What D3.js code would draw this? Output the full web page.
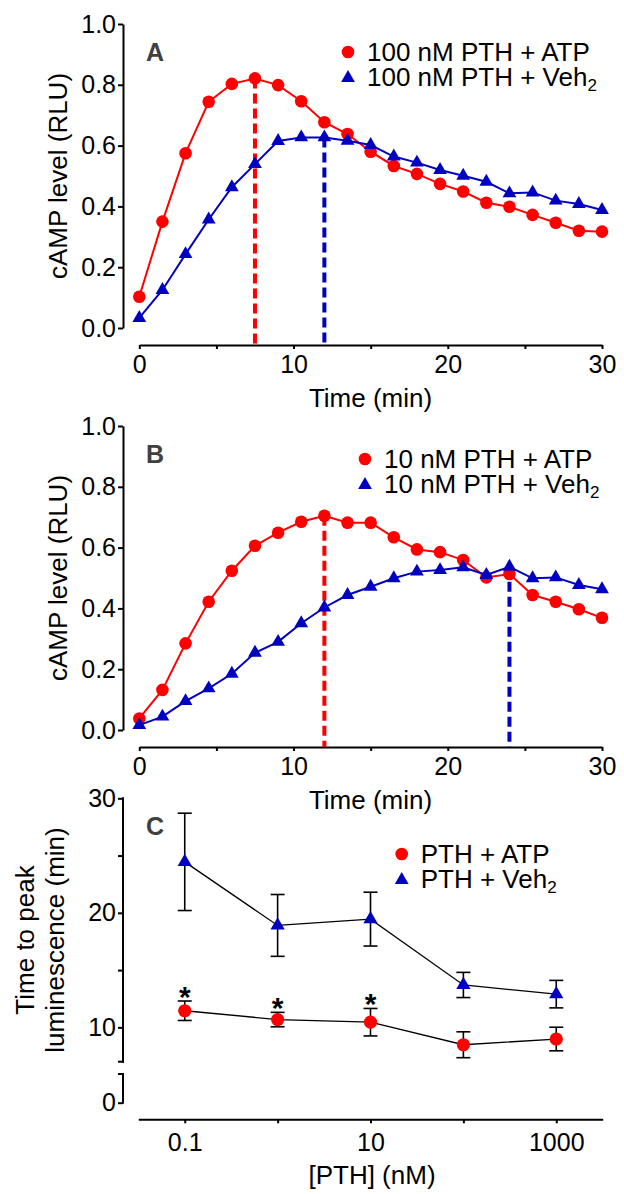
<!DOCTYPE html>
<html><head><meta charset="utf-8">
<script src="https://cdn.jsdelivr.net/npm/d3@7"></script>
<style>
body{margin:0;background:#fff}
svg{display:block}
text{font-family:"Liberation Sans",Arial,Helvetica,sans-serif}
</style>
</head><body>
<svg id="chart" width="624" height="1194"></svg>
<script>
// ---------- data ----------
const timePoints = [0,1.5,3,4.5,6,7.5,9,10.5,12,13.5,15,16.5,18,19.5,21,22.5,24,25.5,27,28.5,30];
const aATP = [0.103,0.35,0.575,0.744,0.803,0.821,0.799,0.746,0.677,0.638,0.58,0.533,0.507,0.474,0.449,0.412,0.399,0.372,0.346,0.32,0.317];
const aVeh = [0.033,0.125,0.243,0.357,0.463,0.539,0.615,0.627,0.627,0.616,0.602,0.564,0.544,0.52,0.501,0.481,0.443,0.446,0.419,0.408,0.388];
const bATP = [0.038,0.132,0.285,0.422,0.524,0.606,0.649,0.685,0.705,0.682,0.682,0.634,0.594,0.585,0.559,0.502,0.513,0.444,0.422,0.397,0.369];
const bVeh = [0.016,0.044,0.095,0.137,0.185,0.254,0.29,0.351,0.403,0.444,0.471,0.499,0.521,0.526,0.535,0.51,0.537,0.499,0.502,0.477,0.463];
const aPeakTimes = [7.5, 12];   // ATP, Veh2
const bPeakTimes = [12, 24];

const timeTicks = [0,5,10,15,20,25,30];
const timeLabels = [0,10,20,30];
const campTicks = [0,0.2,0.4,0.6,0.8,1.0];

const pthDoses = [0.1,1,10,100,1000];
const cATP = [11.45,10.68,10.45,8.48,8.98];
const cATPsem = [0.85,0.63,1.2,1.13,1.03];
const cVeh = [24.45,18.9,19.45,13.7,12.9];
const cVehSem = [4.25,2.7,2.35,1.1,1.2];
const sigDoses = [0.1,1,10];
const peakTicks = [0,10,15,20,25,30];
const peakLabels = [0,10,20,30];
const doseTicks = [0.1,1,10,100,1000];
const doseLabels = [0.1,10,1000];

// ---------- styles ----------
const RED = "#ff0000", BLUE = "#0000c0";
const svg = d3.select("#chart");
const triangle = d3.symbol().type(d3.symbolTriangle).size(82);

function styleAxis(g){
  g.attr("font-size",null).attr("font-family",null);
  g.selectAll("path.domain").attr("stroke","#000").attr("stroke-width",2);
  g.selectAll(".tick line").attr("stroke","#000").attr("stroke-width",2);
  g.selectAll(".tick text").attr("fill","#000").style("font-size","25px");
}

function legend(x, y, label1, label2){
  const g = svg.append("g");
  g.append("circle").attr("cx",x).attr("cy",y-9).attr("r",6.3).attr("fill",RED);
  g.append("path").attr("d",triangle).attr("transform",`translate(${x},${y+25-8})`).attr("fill",BLUE);
  g.append("text").attr("x",x+19).attr("y",y).style("font-size","26px").text(label1);
  const t = g.append("text").attr("x",x+19).attr("y",y+25).style("font-size","26px").text(label2);
  t.append("tspan").attr("dy","0.3em").style("font-size","17px").text("2");
}

function timePanel(y0, atp, veh, peaks, letter, leg1, leg2, legX, legY){
  const x = d3.scaleLinear().domain([0,30]).range([139.3,602]);
  const y = d3.scaleLinear().domain([0,1]).range([y0, y0-304]);
  const axY = y0 + 17;

  const gy = svg.append("g").attr("transform","translate(123,0)")
    .call(d3.axisLeft(y).tickValues(campTicks).tickFormat(d3.format(".1f")).tickSize(5).tickSizeOuter(0).tickPadding(2));
  styleAxis(gy);
  const gx = svg.append("g").attr("transform",`translate(0,${axY})`)
    .call(d3.axisBottom(x).tickValues(timeTicks).tickFormat(d=>timeLabels.includes(d)?d:"").tickSize(4).tickSizeOuter(0).tickPadding(6));
  styleAxis(gx);

  svg.append("text").attr("x",370.5).attr("y",axY+62).attr("text-anchor","middle").style("font-size","26px").text("Time (min)");
  svg.append("text").attr("transform",`translate(67,${y0-152}) rotate(-90)`).attr("text-anchor","middle").style("font-size","26px").text("cAMP level (RLU)");
  svg.append("text").attr("x",146).attr("y",y0-267).style("font-size","25px").style("font-weight","bold").attr("fill","#404040").text(letter);

  // dashed peak markers
  [[atp,RED],[veh,BLUE]].forEach(([vals,col],i)=>{
    const t = peaks[i];
    const v = vals[timePoints.indexOf(t)];
    svg.append("line").attr("x1",x(t)).attr("x2",x(t)).attr("y1",y(v)).attr("y2",axY)
      .attr("stroke",col).attr("stroke-width",4).attr("stroke-dasharray","10,5");
  });

  const line = d3.line().x((d,i)=>x(timePoints[i])).y(d=>y(d));
  svg.append("path").datum(atp).attr("d",line).attr("fill","none").attr("stroke",RED).attr("stroke-width",2);
  svg.selectAll(null).data(atp).enter().append("circle")
    .attr("cx",(d,i)=>x(timePoints[i])).attr("cy",d=>y(d)).attr("r",6.3).attr("fill",RED);
  svg.append("path").datum(veh).attr("d",line).attr("fill","none").attr("stroke",BLUE).attr("stroke-width",2);
  svg.selectAll(null).data(veh).enter().append("path").attr("d",triangle)
    .attr("transform",(d,i)=>`translate(${x(timePoints[i])},${y(d)})`).attr("fill",BLUE);

  legend(legX, legY, leg1, leg2);
}

timePanel(328, aATP, aVeh, aPeakTimes, "A", "100 nM PTH + ATP", "100 nM PTH + Veh", 348, 61);
timePanel(730, bATP, bVeh, bPeakTimes, "B", "10 nM PTH + ATP", "10 nM PTH + Veh", 365, 468);

// ---------- panel C ----------
(function(){
  const x = d3.scaleLog().domain([Math.pow(10,-1.5), Math.pow(10,3.5)]).range([138.3,602.7]);
  const y = d3.scaleLinear().domain([0,2.5,7,30]).range([1102.7,1074,1061.7,798.3]);
  const axY = 1119.3;

  const gy = svg.append("g").attr("transform","translate(123,0)")
    .call(d3.axisLeft(y).tickValues(peakTicks).tickFormat(d=>peakLabels.includes(d)?d:"").tickSize(5).tickSizeOuter(0).tickPadding(2));
  styleAxis(gy);
  gy.select("path.domain").remove();
  [[7,30],[0,2.5]].forEach(([a,b])=>{
    gy.append("line").attr("x1",0).attr("x2",0).attr("y1",y(a)+1).attr("y2",y(b)-1).attr("stroke","#000").attr("stroke-width",2);
    const e = a===7 ? a : b;
    gy.append("line").attr("x1",-5).attr("x2",1).attr("y1",y(e)).attr("y2",y(e)).attr("stroke","#000").attr("stroke-width",2);
  });

  const gx = svg.append("g").attr("transform",`translate(0,${axY})`)
    .call(d3.axisBottom(x).tickValues(doseTicks).tickFormat(d=>doseLabels.includes(d)?String(d):"").tickSize(4).tickSizeOuter(0).tickPadding(10));
  styleAxis(gx);

  svg.append("text").attr("x",372).attr("y",1184).attr("text-anchor","middle").style("font-size","26px").text("[PTH] (nM)");
  const yt = svg.append("text").attr("transform","translate(0,940) rotate(-90)").attr("text-anchor","middle").style("font-size","26px");
  yt.append("tspan").attr("x",0).attr("y",34).text("Time to peak");
  yt.append("tspan").attr("x",0).attr("y",64).text("luminescence (min)");
  svg.append("text").attr("x",146).attr("y",835).style("font-size","25px").style("font-weight","bold").attr("fill","#404040").text("C");

  const line = d3.line().x((d,i)=>x(pthDoses[i])).y(d=>y(d));
  [[cVeh,cVehSem],[cATP,cATPsem]].forEach(([m,s])=>{
    svg.append("path").datum(m).attr("d",line).attr("fill","none").attr("stroke","#000").attr("stroke-width",1.3);
    m.forEach((v,i)=>{
      const cx = x(pthDoses[i]);
      const g = svg.append("g").attr("stroke","#000").attr("stroke-width",1.6);
      g.append("line").attr("x1",cx).attr("x2",cx).attr("y1",y(v-s[i])).attr("y2",y(v+s[i]));
      g.append("line").attr("x1",cx-7).attr("x2",cx+7).attr("y1",y(v-s[i])).attr("y2",y(v-s[i]));
      g.append("line").attr("x1",cx-7).attr("x2",cx+7).attr("y1",y(v+s[i])).attr("y2",y(v+s[i]));
    });
  });
  svg.selectAll(null).data(cATP).enter().append("circle")
    .attr("cx",(d,i)=>x(pthDoses[i])).attr("cy",d=>y(d)).attr("r",6.6).attr("fill",RED);
  svg.selectAll(null).data(cVeh).enter().append("path").attr("d",d3.symbol().type(d3.symbolTriangle).size(88))
    .attr("transform",(d,i)=>`translate(${x(pthDoses[i])},${y(d)})`).attr("fill",BLUE);

  sigDoses.forEach(dz=>{
    const i = pthDoses.indexOf(dz);
    svg.append("text").attr("x",x(dz)).attr("y",y(cATP[i]+cATPsem[i])+6).attr("text-anchor","middle")
      .style("font-size","30px").style("font-weight","bold").text("*");
  });

  legend(401.7, 863, "PTH + ATP", "PTH + Veh");
})();
</script>
</body></html>
